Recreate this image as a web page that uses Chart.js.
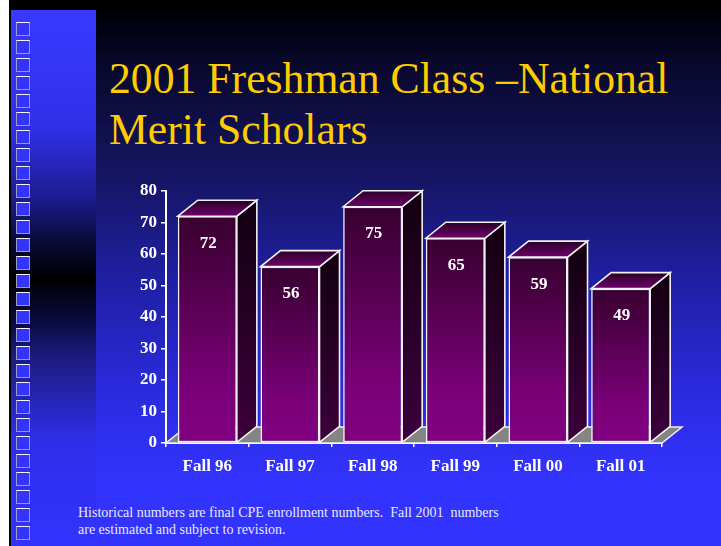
<!DOCTYPE html>
<html>
<head>
<meta charset="utf-8">
<script src="https://cdn.jsdelivr.net/npm/chart.js@4/dist/chart.umd.min.js"></script>
<style>
  html, body { margin: 0; padding: 0; background: #ffffff; }
  #slide { position: relative; width: 721px; height: 546px; overflow: hidden; background: #ffffff; }
  #frame { position: absolute; left: 9px; top: 0; width: 712px; height: 546px; background: #000000; }
  #strip { position: absolute; left: 11px; top: 10px; width: 85px; height: 536px;
    background: linear-gradient(to bottom, #3a3aff 0%, #3030e8 22%, #1c1c90 35%, #0a0a38 43%, #000000 50%, #0a0a40 58%, #1c1c80 65%, #2e2ee8 80%, #3333ff 100%); }
  #main { position: absolute; left: 96px; top: 10px; width: 625px; height: 536px;
    background: linear-gradient(to bottom, #000008 0%, #08082c 10%, #151560 30%, #2020a8 52%, #2b2be0 72%, #3333ff 88%, #3333ff 100%); }
  .sq { position: absolute; left: 16px; width: 12px; height: 12px; background: #3434ff;
    border: 1px solid #9a9ac8; border-top-color: #f4f4ff; }
  #title { position: absolute; left: 109px; top: 53px; font-family: 'Liberation Serif', 'Times New Roman', serif;
    font-size: 43.7px; line-height: 51px; color: #ffcc00; white-space: nowrap; }
  #note { position: absolute; left: 78px; top: 503.5px; font-family: 'Liberation Serif', 'Times New Roman', serif;
    font-size: 14px; line-height: 17.5px; color: #e8e8f6; white-space: pre; }
  #c { position: absolute; left: 0; top: 0; }
</style>
</head>
<body>
<div id="slide">
  <div id="frame"></div>
  <div id="strip"></div>
  <div id="main"></div>
  <div id="squares"></div>
  <div id="title">2001 Freshman Class –National<br>Merit Scholars</div>
  <div id="note">Historical numbers are final CPE enrollment numbers.  Fall 2001  numbers
are estimated and subject to revision.</div>
  <canvas id="c" width="721" height="546"></canvas>
</div>
<script>
// ---- data ----
const categories = ['Fall 96', 'Fall 97', 'Fall 98', 'Fall 99', 'Fall 00', 'Fall 01'];
const scholars = [72, 56, 75, 65, 59, 49];
const yTicks = [0, 10, 20, 30, 40, 50, 60, 70, 80];

// decorative squares on left strip
(function () {
  const holder = document.getElementById('squares');
  for (let i = 0; i < 29; i++) {
    const d = document.createElement('div');
    d.className = 'sq';
    d.style.top = (22 + i * 18.0) + 'px';
    holder.appendChild(d);
  }
})();

const DX = 20, DY = 16;
const FONT = "'Liberation Serif', 'Times New Roman', serif";

const bar3d = {
  id: 'bar3d',
  beforeDatasetsDraw(chart) {
    const { ctx, chartArea } = chart;
    const b = chartArea.bottom, l = chartArea.left, r = chartArea.right;
    ctx.save();
    ctx.beginPath();
    ctx.moveTo(l, b);
    ctx.lineTo(r, b);
    ctx.lineTo(r + DX, b - DY);
    ctx.lineTo(l + DX, b - DY);
    ctx.closePath();
    ctx.fillStyle = '#858585';
    ctx.fill();
    ctx.strokeStyle = '#f2f2f2';
    ctx.lineWidth = 1.5;
    ctx.stroke();
    ctx.restore();
  },
  afterDatasetsDraw(chart) {
    const { ctx } = chart;
    const meta = chart.getDatasetMeta(0);
    ctx.save();
    ctx.lineWidth = 1.6;
    ctx.strokeStyle = '#f2f2f2';
    ctx.lineJoin = 'miter';
    meta.data.forEach((el, i) => {
      const p = el.getProps(['x', 'y', 'base', 'width'], true);
      const left = p.x - p.width / 2, right = p.x + p.width / 2;
      const top = p.y, base = p.base;
      // side face
      const gs = ctx.createLinearGradient(0, top - DY, 0, base);
      gs.addColorStop(0, '#120010');
      gs.addColorStop(1, '#3c003c');
      ctx.beginPath();
      ctx.moveTo(right, top);
      ctx.lineTo(right + DX, top - DY);
      ctx.lineTo(right + DX, base - DY);
      ctx.lineTo(right, base);
      ctx.closePath();
      ctx.fillStyle = gs;
      ctx.fill();
      ctx.stroke();
      // top face
      const gt = ctx.createLinearGradient(0, top - DY, 0, top);
      gt.addColorStop(0, '#2a0026');
      gt.addColorStop(1, '#6e006c');
      ctx.beginPath();
      ctx.moveTo(left, top);
      ctx.lineTo(left + DX, top - DY);
      ctx.lineTo(right + DX, top - DY);
      ctx.lineTo(right, top);
      ctx.closePath();
      ctx.fillStyle = gt;
      ctx.fill();
      ctx.stroke();
      // value label
      ctx.fillStyle = '#ffffff';
      ctx.font = 'bold 17px ' + FONT;
      ctx.textAlign = 'center';
      ctx.textBaseline = 'middle';
      ctx.fillText(String(scholars[i]), p.x + 1, top + 27);
    });
    ctx.restore();
  }
};

new Chart(document.getElementById('c'), {
  type: 'bar',
  data: {
    labels: categories,
    datasets: [{
      data: scholars,
      backgroundColor: (c) => {
        const chart = c.chart;
        const area = chart.chartArea;
        if (!area || !chart.scales.y) return '#5a005a';
        const top = chart.scales.y.getPixelForValue(c.raw);
        const g = chart.ctx.createLinearGradient(0, top, 0, area.bottom);
        g.addColorStop(0, '#38002f');
        g.addColorStop(0.75, '#7a0078');
        g.addColorStop(1, '#800080');
        return g;
      },
      borderColor: '#f2f2f2',
      borderWidth: 1.6,
      borderSkipped: false,
      barPercentage: 0.714,
      categoryPercentage: 1.0
    }]
  },
  options: {
    responsive: false,
    animation: false,
    devicePixelRatio: 1,
    layout: { padding: { left: 100, right: 59, top: 191, bottom: 40 } },
    plugins: { legend: { display: false }, tooltip: { enabled: false }, title: { display: false } },
    scales: {
      y: {
        min: 0, max: 80,
        afterFit(s) { s.width = 66; },
        afterBuildTicks(s) { s.ticks = yTicks.map(v => ({ value: v })); },
        ticks: { color: '#ffffff', font: { family: FONT, size: 17, weight: 'bold' }, padding: 4 },
        grid: { drawOnChartArea: false, drawTicks: true, tickLength: 5, color: '#ffffff', lineWidth: 1.5 },
        border: { color: '#ffffff', width: 2 }
      },
      x: {
        afterFit(s) { s.height = 63; },
        ticks: { color: '#ffffff', font: { family: FONT, size: 17, weight: 'bold' }, padding: 9 },
        grid: { offset: true, drawOnChartArea: false, drawTicks: true, tickLength: 4, color: '#ffffff', lineWidth: 1.5 },
        border: { color: '#ffffff', width: 2 }
      }
    }
  },
  plugins: [bar3d]
});
</script>
</body>
</html>
